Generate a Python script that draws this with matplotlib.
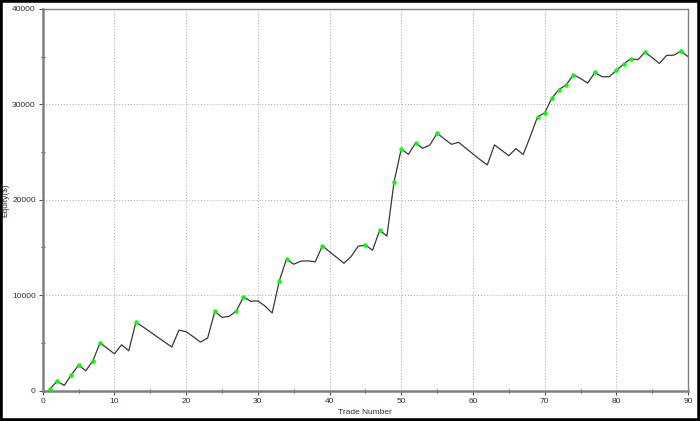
import matplotlib
matplotlib.use("Agg")
import matplotlib.pyplot as plt
import numpy as np
from matplotlib.patches import Rectangle


### Data

trades = list(range(1, 91))
equity = [
    150, 1000, 550, 1660, 2680, 2080, 3130, 5020, 4440, 3860,
    4810, 4180, 7190, 6680, 6150, 5620, 5100, 4570, 6350, 6170,
    5650, 5090, 5510, 8310, 7680, 7790, 8350, 9820, 9370, 9400,
    8870, 8140, 11530, 13780, 13250, 13570, 13600, 13500, 15170, 14560,
    13960, 13350, 14050, 15140, 15250, 14720, 16820, 16190, 21890, 25320,
    24760, 25950, 25390, 25740, 26970, 26380, 25810, 26020, 25400, 24800,
    24200, 23650, 25750, 25180, 24620, 25360, 24730, 26650, 28680, 29100,
    30640, 31550, 32040, 33090, 32710, 32220, 33340, 32890, 32890, 33550,
    34210, 34780, 34670, 35470, 34880, 34280, 35120, 35150, 35570, 34990,
]
x_ticks = [0, 10, 20, 30, 40, 50, 60, 70, 80, 90]
y_ticks = [0, 10000, 20000, 30000, 40000]

TXT = "#3a2a2a"
FONT = ["Liberation Sans", "DejaVu Sans"]

x = np.array(trades)
y = np.array(equity, dtype=float)

# green dots mark new equity highs
prev_max = np.concatenate([[-np.inf], np.maximum.accumulate(y)[:-1]])
highs = y > prev_max

fig = plt.figure(figsize=(7.0, 4.21), dpi=100)
ax = fig.add_axes([0.061, 0.072, 0.922, 0.907])

ax.plot(x, y, color="#383838", lw=0.9, zorder=3)
ax.plot(x[highs], y[highs], "o", color="#00ff00", ms=3.2, mew=0, zorder=4)

ax.set_xlim(0, 90)
ax.set_ylim(0, 40000)
ax.set_xticks(x_ticks)
ax.set_yticks(y_ticks)
ax.set_xticks(np.arange(5, 90, 10), minor=True)
ax.set_yticks(np.arange(5000, 40000, 10000), minor=True)
ax.set_xticklabels([str(v) for v in x_ticks], fontsize=6, color=TXT, family=FONT)
ax.set_yticklabels([str(v) for v in y_ticks], fontsize=6, color=TXT, family=FONT)
ax.tick_params(which="major", length=3, width=0.8, color="#505050", pad=2)
ax.tick_params(which="minor", length=3, width=0.8, color="#505050", direction="inout")

# dotted grid only inside the frame
for v in x_ticks[1:-1]:
    ax.axvline(v, color="#a8a8a8", lw=0.7, ls=(0, (1, 2)), zorder=1)
for v in y_ticks[1:-1]:
    ax.axhline(v, color="#a8a8a8", lw=0.7, ls=(0, (1, 2)), zorder=1)

for s in ["left", "bottom"]:
    ax.spines[s].set_color("#808080")
    ax.spines[s].set_linewidth(1.8)
for s in ["top", "right"]:
    ax.spines[s].set_color("#808080")
    ax.spines[s].set_linewidth(1.0)

ax.set_xlabel("Trade Number", fontsize=6, color=TXT, family=FONT, labelpad=3)
ax.set_ylabel("Equity($)", fontsize=6, color=TXT, family=FONT)
ax.yaxis.set_label_coords(-0.051, 0.5)

# black frame round the whole picture
fig.patches.append(Rectangle((0, 0), 1, 1, transform=fig.transFigure,
                             fill=False, edgecolor="black", lw=4))

fig.savefig("out.png", dpi=100)
